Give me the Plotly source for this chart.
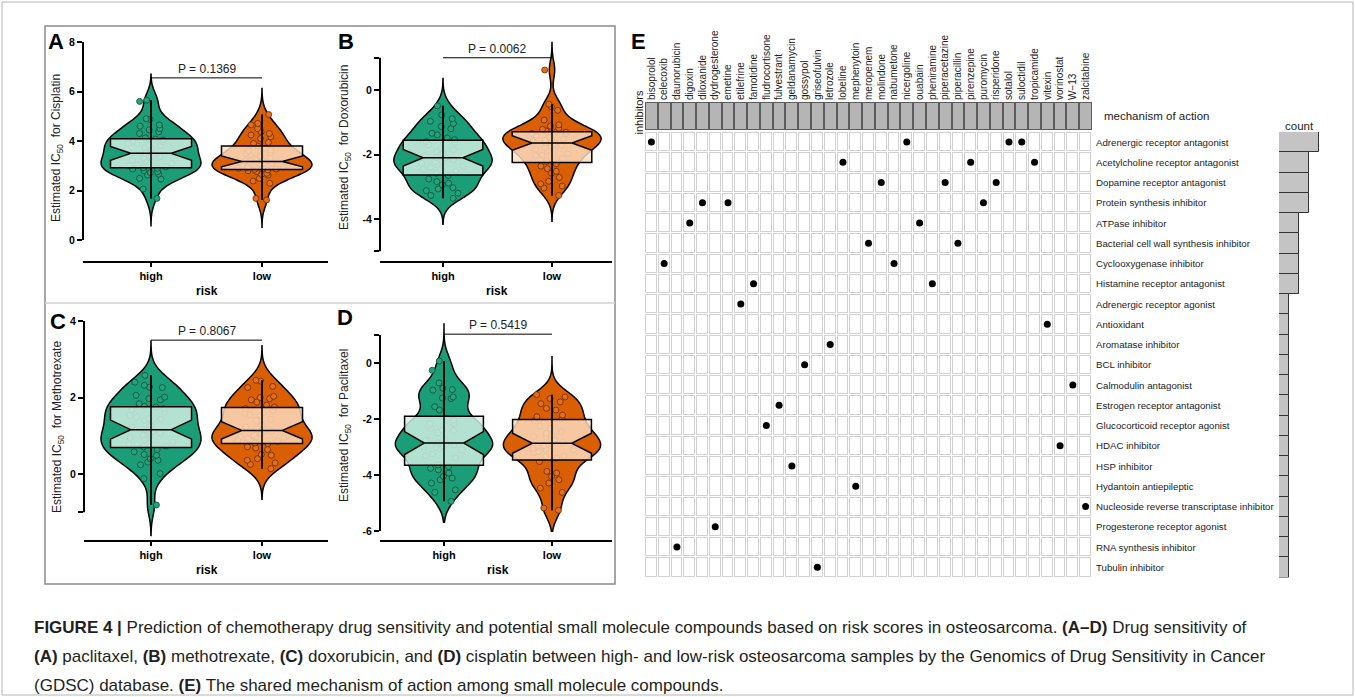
import numpy as np
import plotly.graph_objects as go

# ---------------- data ----------------
risk_groups = ["high", "low"]

cisplatin_high = [5.65, 5.6, 4.9, 4.87, 4.65, 4.6, 4.5, 4.45, 4.37, 4.3, 4.13, 4.08, 4.04, 4.0, 3.97, 3.9, 3.9,
                  3.84, 3.8, 3.74, 3.7, 3.53, 3.5, 3.43, 3.36, 3.35, 3.32, 3.23, 3.19, 3.1, 3.03, 3.0, 2.96, 2.92,
                  2.9, 2.87, 2.8, 2.76, 2.72, 2.66, 2.62, 2.49, 2.46, 2.06, 1.68]
cisplatin_low = [5.07, 4.71, 4.65, 4.5, 4.37, 4.3, 4.24, 4.17, 4.1, 3.94, 3.9, 3.8, 3.7, 3.63, 3.6, 3.53, 3.5, 3.43,
                 3.39, 3.32, 3.27, 3.23, 3.19, 3.16, 3.12, 3.1, 3.05, 3.03, 3.0, 2.96, 2.95, 2.92, 2.9, 2.87, 2.85,
                 2.83, 2.8, 2.76, 2.69, 2.65, 2.62, 2.49, 2.38, 2.29, 1.68, 1.62]
doxorubicin_high = [-0.49, -0.77, -0.89, -0.97, -1.04, -1.13, -1.2, -1.34, -1.39, -1.49, -1.54, -1.6, -1.62, -1.65,
                    -1.7, -1.8, -1.85, -1.91, -1.96, -2.03, -2.09, -2.1, -2.17, -2.22, -2.24, -2.27, -2.32, -2.37,
                    -2.4, -2.45, -2.51, -2.58, -2.65, -2.76, -2.84, -2.89, -2.94, -3.03, -3.07, -3.12, -3.2, -3.27,
                    -3.36]
doxorubicin_low = [0.62, -0.44, -0.52, -0.63, -0.93, -1.08, -1.12, -1.19, -1.22, -1.27, -1.28, -1.31, -1.35, -1.36,
                   -1.41, -1.43, -1.47, -1.52, -1.55, -1.58, -1.6, -1.63, -1.66, -1.71, -1.74, -1.79, -1.84, -1.88,
                   -1.97, -2.02, -2.04, -2.13, -2.21, -2.29, -2.36, -2.44, -2.52, -2.58, -2.71, -2.83, -2.91, -2.98,
                   -3.04, -3.27]
methotrexate_high = [2.58, 2.4, 2.32, 2.27, 2.26, 2.06, 2.01, 1.97, 1.94, 1.84, 1.77, 1.75, 1.71, 1.68, 1.62, 1.53,
                     1.49, 1.45, 1.43, 1.4, 1.27, 1.23, 1.16, 1.12, 1.07, 1.04, 1.01, 0.95, 0.9, 0.84, 0.79, 0.78,
                     0.73, 0.71, 0.64, 0.58, 0.51, 0.49, 0.4, 0.36, 0.31, 0.24, 0.01, -0.12, -0.81]
methotrexate_low = [2.45, 2.43, 2.29, 2.26, 2.03, 2.0, 1.97, 1.94, 1.88, 1.8, 1.75, 1.71, 1.66, 1.59, 1.55, 1.53,
                    1.43, 1.4, 1.27, 1.23, 1.19, 1.14, 1.12, 1.07, 1.01, 0.98, 0.97, 0.93, 0.92, 0.88, 0.85, 0.81,
                    0.79, 0.71, 0.68, 0.64, 0.51, 0.49, 0.4, 0.36, 0.29, 0.25, 0.14]
paclitaxel_high = [0.07, -0.26, -0.71, -0.9, -0.95, -0.97, -1.21, -1.25, -1.27, -1.56, -1.68, -1.98, -2.04, -2.16,
                   -2.18, -2.25, -2.33, -2.4, -2.42, -2.49, -2.73, -2.75, -2.86, -2.89, -2.93, -2.96, -2.99, -3.0,
                   -3.05, -3.1, -3.25, -3.32, -3.4, -3.64, -3.7, -3.76, -3.82, -3.93, -4.05, -4.11, -4.17, -4.29,
                   -4.53, -4.62, -4.94]
paclitaxel_low = [-1.13, -1.21, -1.27, -1.39, -1.45, -1.62, -1.68, -1.86, -1.92, -1.98, -2.06, -2.25, -2.33, -2.45,
                  -2.51, -2.57, -2.63, -2.65, -2.75, -2.84, -2.89, -2.95, -3.05, -3.08, -3.1, -3.16, -3.2, -3.32,
                  -3.34, -3.4, -3.52, -3.87, -3.93, -4.05, -4.17, -4.29, -4.47, -4.62, -5.18, -5.26]

panel_drugs = ["Cisplatin", "Doxorubicin", "Methotrexate", "Paclitaxel"]
p_values = ["0.1369", "0.0062", "0.8067", "0.5419"]
y_tick_values = [[0, 2, 4, 6, 8], [-5, -4, -2, 0, 1], [-1, 0, 2, 4], [-6, -4, -2, 0, 1]]
y_tick_labels = [["0", "2", "4", "6", "8"], ["", "-4", "-2", "0", ""], ["", "0", "2", "4"],
                 ["-6", "-4", "-2", "0", ""]]
y_axis_extent = [(0, 8), (-5, 1), (-1, 4), (-6, 1)]
p_bar_level = [6.55, 1.0, 3.5, 1.03]

drugs = ["bisoprolol", "celecoxib", "daunorubicin", "digoxin", "diloxanide", "dydrogesterone", "emetine",
         "etilefrine", "famotidine", "fludrocortisone", "fulvestrant", "geldanamycin", "gossypol", "griseofulvin",
         "letrozole", "lobeline", "mephenytoin", "meropenem", "molindone", "nabumetone", "nicergoline", "ouabain",
         "pheniramine", "piperacetazine", "piperacillin", "pirenzepine", "puromycin", "risperidone", "sotalol",
         "suloctidil", "tropicamide", "vitexin", "vorinostat", "W\u221213", "zalcitabine"]
drug_mechanism = ["Adrenergic receptor antagonist", "Cyclooxygenase inhibitor", "RNA synthesis inhibitor",
                  "ATPase inhibitor", "Protein synthesis inhibitor", "Progesterone receptor agonist",
                  "Protein synthesis inhibitor", "Adrenergic receptor agonist", "Histamine receptor antagonist",
                  "Glucocorticoid receptor agonist", "Estrogen receptor antagonist", "HSP inhibitor",
                  "BCL inhibitor", "Tubulin inhibitor", "Aromatase inhibitor", "Acetylcholine receptor antagonist",
                  "Hydantoin antiepileptic", "Bacterial cell wall synthesis inhibitor", "Dopamine receptor antagonist",
                  "Cyclooxygenase inhibitor", "Adrenergic receptor antagonist", "ATPase inhibitor",
                  "Histamine receptor antagonist", "Dopamine receptor antagonist",
                  "Bacterial cell wall synthesis inhibitor", "Acetylcholine receptor antagonist",
                  "Protein synthesis inhibitor", "Dopamine receptor antagonist", "Adrenergic receptor antagonist",
                  "Adrenergic receptor antagonist", "Acetylcholine receptor antagonist", "Antioxidant",
                  "HDAC inhibitor", "Calmodulin antagonist", "Nucleoside reverse transcriptase inhibitor"]
mechanisms = ["Adrenergic receptor antagonist", "Acetylcholine receptor antagonist", "Dopamine receptor antagonist",
              "Protein synthesis inhibitor", "ATPase inhibitor", "Bacterial cell wall synthesis inhibitor",
              "Cyclooxygenase inhibitor", "Histamine receptor antagonist", "Adrenergic receptor agonist",
              "Antioxidant", "Aromatase inhibitor", "BCL inhibitor", "Calmodulin antagonist",
              "Estrogen receptor antagonist", "Glucocorticoid receptor agonist", "HDAC inhibitor", "HSP inhibitor",
              "Hydantoin antiepileptic", "Nucleoside reverse transcriptase inhibitor",
              "Progesterone receptor agonist", "RNA synthesis inhibitor", "Tubulin inhibitor"]

caption_lines = [
    "<b>FIGURE 4 |</b> Prediction of chemotherapy drug sensitivity and potential small molecule compounds based on "
    "risk scores in osteosarcoma. <b>(A\u2013D)</b> Drug sensitivity of",
    "<b>(A)</b> paclitaxel, <b>(B)</b> methotrexate, <b>(C)</b> doxorubicin, and <b>(D)</b> cisplatin between high- "
    "and low-risk osteosarcoma samples by the Genomics of Drug Sensitivity in Cancer",
    "(GDSC) database. <b>(E)</b> The shared mechanism of action among small molecule compounds.",
]

# ---------------- layout helpers ----------------
W, H = 1355, 697
FONT = "Liberation Sans, Arial, Helvetica, sans-serif"
GREEN, ORANGE = "#1b9e77", "#d95f02"
PT_FILL = ["#25a47b", "#e36f17"]
PT_LINE = ["#0c4e39", "#6a2b00"]
BOX_FILL = ["rgba(215,240,230,0.82)", "rgba(252,222,195,0.82)"]


def px(x):
    return x / W


def py(y):
    return 1 - y / H


def note(text, x, y, size, color="#222", weight="normal", angle=0, xanchor="center", yanchor="middle",
         xref="paper", yref="paper"):
    return dict(text=text, xref=xref, yref=yref, x=x, y=y, xanchor=xanchor, yanchor=yanchor,
                textangle=angle, showarrow=False, align="left",
                font=dict(family=FONT, size=size, color=color, weight=weight))


data_high = [cisplatin_high, doxorubicin_high, methotrexate_high, paclitaxel_high]
data_low = [cisplatin_low, doxorubicin_low, methotrexate_low, paclitaxel_low]

# pixel layout of the four violin panels (tail = KDE extension below / above the data)
panel_layout = [
    dict(letter="A", xdom=(83, 328), cat_px=(151, 262), ydom=(30, 258), ycal=((8, 42), (0, 240)),
         xaxis_y=262, letter_xy=(56, 41), title_xy=(57, 148), bw=0.36, tail=(1.1, 1.05)),
    dict(letter="B", xdom=(380, 612), cat_px=(443, 552), ydom=(36, 258), ycal=((0, 90), (-4, 219)),
         xaxis_y=262, letter_xy=(346, 41), title_xy=(345, 148), bw=0.28, tail=(0.8, 0.85)),
    dict(letter="C", xdom=(84, 328), cat_px=(151, 262), ydom=(306, 538), ycal=((4, 321), (0, 474)),
         xaxis_y=541, letter_xy=(58, 321), title_xy=(58, 427), bw=0.28, tail=(0.8, 0.9)),
    dict(letter="D", xdom=(380, 612), cat_px=(444, 552), ydom=(310, 538), ycal=((0, 363), (-6, 531)),
         xaxis_y=541, letter_xy=(345, 317), title_xy=(345, 426), bw=0.36, tail=(0.75, 1.35)),
]

fig = go.Figure()
layout = dict(width=W, height=H, margin=dict(l=0, r=0, t=0, b=0), paper_bgcolor="white",
              plot_bgcolor="rgba(0,0,0,0)", showlegend=False, boxmode="overlay", violinmode="overlay",
              bargap=0, font=dict(family=FONT, color="black"))
shapes, annotations = [], []

for i, pl in enumerate(panel_layout):
    n = "" if i == 0 else str(i + 1)
    xa, ya = "x" + n, "y" + n
    (v1, p1), (v2, p2) = pl["ycal"]
    scale = (p2 - p1) / (v1 - v2)  # px per unit

    def val(p, v1=v1, p1=p1, scale=scale):
        return v1 + (p1 - p) / scale

    c0, c1 = pl["cat_px"]
    xr = [(pl["xdom"][0] - c0) / (c1 - c0), (pl["xdom"][1] - c0) / (c1 - c0)]
    layout["xaxis" + n] = dict(domain=[px(pl["xdom"][0]), px(pl["xdom"][1])], anchor="free",
                               position=py(pl["xaxis_y"]), type="category", categoryorder="array",
                               categoryarray=risk_groups, range=xr, showline=True, linecolor="black",
                               linewidth=2, ticks="outside", ticklen=4, tickwidth=2, tickcolor="black",
                               showgrid=False, zeroline=False,
                               tickfont=dict(family=FONT, size=11, color="black", weight="bold"))
    layout["yaxis" + n] = dict(domain=[py(pl["ydom"][1]), py(pl["ydom"][0])], anchor=xa,
                               range=[val(pl["ydom"][1]), val(pl["ydom"][0])], showline=False,
                               ticks="outside", ticklen=5, tickwidth=2, tickcolor="black",
                               tickvals=y_tick_values[i], ticktext=y_tick_labels[i], showgrid=False,
                               zeroline=False, tickfont=dict(family=FONT, size=10.5, color="black", weight="bold"))
    lo, hi = y_axis_extent[i]
    shapes.append(dict(type="line", xref=xa + " domain", x0=0, x1=0, yref=ya, y0=lo, y1=hi,
                       line=dict(color="black", width=2)))

    t_lo, t_hi = pl["tail"]
    for g, (grp, vals) in enumerate(zip(risk_groups, [data_high[i], data_low[i]])):
        arr = np.array(vals, dtype=float)
        fig.add_trace(go.Violin(
            x=[grp] * len(arr), y=arr, xaxis=xa, yaxis=ya, width=0.9, scalemode="count",
            scalegroup=pl["letter"], bandwidth=pl["bw"], spanmode="manual",
            span=[arr.min() - t_lo, arr.max() + t_hi],
            fillcolor=[GREEN, ORANGE][g], opacity=1, line=dict(color="black", width=1.5),
            points="all", jitter=0.5, pointpos=0,
            marker=dict(size=6, color=PT_FILL[g], line=dict(color=PT_LINE[g], width=0.8)),
            box=dict(visible=False), meanline=dict(visible=False), hoverinfo="skip"))
        fig.add_trace(go.Box(
            x=[grp] * len(arr), y=arr, xaxis=xa, yaxis=ya, width=0.73, notched=True, notchwidth=0.25,
            fillcolor=BOX_FILL[g], line=dict(color="black", width=1.5), whiskerwidth=0,
            boxpoints="outliers", marker=dict(color="rgba(0,0,0,0)", line=dict(width=0), size=1),
            hoverinfo="skip"))
        # whisker line drawn through the box (Tukey fences)
        q1, q3 = np.percentile(arr, [25, 75])
        iqr = q3 - q1
        lw = arr[arr >= q1 - 1.5 * iqr].min()
        uw = arr[arr <= q3 + 1.5 * iqr].max()
        fig.add_trace(go.Scatter(x=[grp, grp], y=[lw, uw], xaxis=xa, yaxis=ya, mode="lines",
                                 line=dict(color="black", width=1.5), hoverinfo="skip"))

    # significance bar
    lvl = p_bar_level[i]
    shapes.append(dict(type="line", xref=xa, yref=ya, x0=0, x1=1, y0=lvl, y1=lvl,
                       line=dict(color="black", width=1)))
    annotations.append(note("P = " + p_values[i], 0.5, lvl, 12, yanchor="bottom", xref=xa, yref=ya))
    tx, ty = pl["title_xy"]
    annotations.append(note("Estimated IC<sub>50</sub>  for " + panel_drugs[i], px(tx), py(ty), 12, angle=-90))
    annotations.append(note("risk", 0.5, py(pl["xaxis_y"] + 29), 12, color="black", weight="bold", xref=xa))
    lx, ly = pl["letter_xy"]
    annotations.append(note(pl["letter"], px(lx), py(ly), 22, color="black", weight="bold"))

# frame around panels A-D
shapes.append(dict(type="rect", xref="paper", yref="paper", x0=px(45), x1=px(615), y0=py(584), y1=py(26),
                   line=dict(color="#8a8a8a", width=1.5)))
shapes.append(dict(type="line", xref="paper", yref="paper", x0=px(45), x1=px(615), y0=py(303), y1=py(303),
                   line=dict(color="#d0d0d0", width=1.5)))
shapes.append(dict(type="rect", xref="paper", yref="paper", x0=px(2), x1=px(1353), y0=py(695), y1=py(2),
                   line=dict(color="#b5b5b5", width=1)))

# ---------------- panel E ----------------
GX = (645, 1092)
GY = (132, 577.5)
HY = (102, 130)
BX = (1279, 1323)
unit_px = 9.9

nr, nc = len(mechanisms), len(drugs)
zeros = np.zeros((nr, nc))
for color, gap in [("#d2d2d2", 1), ("#ffffff", 3)]:
    fig.add_trace(go.Heatmap(z=zeros, x=drugs, y=mechanisms, xaxis="x5", yaxis="y5", showscale=False,
                             colorscale=[[0, color], [1, color]], xgap=gap, ygap=gap, hoverinfo="skip"))
hz = np.zeros((1, nc))
for color, gap in [("#5c5c5c", 0), ("#b5b5b5", 2)]:
    fig.add_trace(go.Heatmap(z=hz, x=drugs, y=["header"], xaxis="x6", yaxis="y6", showscale=False,
                             colorscale=[[0, color], [1, color]], xgap=gap, ygap=gap, hoverinfo="skip"))
fig.add_trace(go.Scatter(x=drugs, y=drug_mechanism, xaxis="x5", yaxis="y5", mode="markers",
                         marker=dict(color="black", size=7), hoverinfo="skip"))
counts = [drug_mechanism.count(m) for m in mechanisms]
fig.add_trace(go.Bar(x=counts, y=mechanisms, orientation="h", xaxis="x7", yaxis="y7",
                     marker=dict(color="#c4c4c4", line=dict(color="#333333", width=1)), hoverinfo="skip"))

cat_x = dict(type="category", categoryorder="array", categoryarray=drugs, showgrid=False, zeroline=False,
             showline=False, ticks="", range=[-0.5, nc - 0.5])
cat_y = dict(type="category", categoryorder="array", categoryarray=mechanisms, range=[nr - 0.5, -0.5],
             showgrid=False, zeroline=False, showline=False, ticks="")
layout["xaxis5"] = dict(domain=[px(GX[0]), px(GX[1])], anchor="y5", showticklabels=False, **cat_x)
layout["yaxis5"] = dict(domain=[py(GY[1]), py(GY[0])], anchor="x5", side="right", ticklabelstandoff=3,
                        tickfont=dict(family=FONT, size=9.7, color="#222"), **cat_y)
layout["xaxis6"] = dict(domain=[px(GX[0]), px(GX[1])], anchor="y6", side="top", tickangle=-90,
                        ticklabelstandoff=1, tickfont=dict(family=FONT, size=10, color="#222"), **cat_x)
layout["yaxis6"] = dict(domain=[py(HY[1]), py(HY[0])], anchor="x6", showticklabels=False, showgrid=False,
                        zeroline=False, showline=False, range=[-0.5, 0.5])
layout["xaxis7"] = dict(domain=[px(BX[0]), px(BX[1])], anchor="y7", range=[0, (BX[1] - BX[0]) / unit_px],
                        showticklabels=False, showgrid=False, zeroline=False, showline=False, ticks="")
layout["yaxis7"] = dict(domain=[py(GY[1]), py(GY[0])], anchor="x7", showticklabels=False, **cat_y)

annotations += [
    note("E", px(638), py(41), 22, color="black", weight="bold"),
    note("inhibitors", px(638.5), py(112), 11, angle=-90),
    note("mechanism of action", px(1102), py(116), 11.5, xanchor="left"),
    note("count", px(1299), py(126), 11.5),
]

for k, line in enumerate(caption_lines):
    annotations.append(note(line, px(32), py(627 + 29 * k), 17, color="#231f20", xanchor="left"))

layout["shapes"] = shapes
layout["annotations"] = annotations
fig.update_layout(**layout)
fig.write_html("out.html")
